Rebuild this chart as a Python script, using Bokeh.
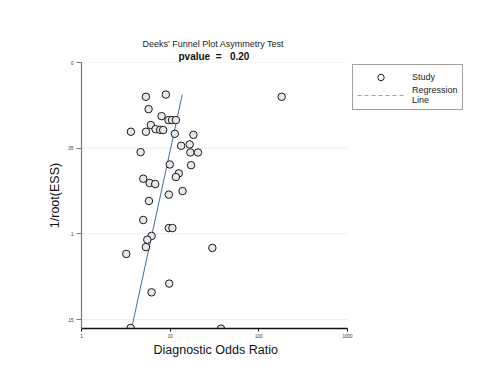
from bokeh.plotting import figure
from bokeh.models import Range1d, FixedTicker, Legend, LegendItem, Title
from bokeh.embed import file_html
from bokeh.resources import INLINE

# Study data: diagnostic odds ratio and 1/root(ESS)
dor = [5.33, 8.94, 181, 5.71, 8.0, 9.58, 10.5, 11.6, 6.06, 6.84, 7.72, 8.34,
       3.61, 5.33, 11.3, 18.3, 13.3, 16.6, 4.64, 16.9, 20.6, 9.91, 17.2, 12.5,
       11.6, 4.97, 5.86, 6.78, 13.8, 9.66, 5.76, 4.97, 9.66, 10.6, 6.17, 5.52,
       5.33, 3.20, 29.9, 9.75, 6.17, 3.59, 37.4]
inv_root_ess = [0.0200, 0.0187, 0.0200, 0.0272, 0.0313, 0.0336, 0.0336, 0.0336,
                0.0365, 0.0389, 0.0393, 0.0394, 0.0404, 0.0404, 0.0416, 0.0422,
                0.0486, 0.0478, 0.0523, 0.0525, 0.0525, 0.0595, 0.0599, 0.0647,
                0.0668, 0.0678, 0.0703, 0.0709, 0.0750, 0.0771, 0.0808, 0.0919,
                0.0966, 0.0966, 0.1012, 0.1034, 0.1077, 0.1117, 0.1082, 0.1290,
                0.1341, 0.1549, 0.1553]

# Regression line end points
reg_dor = [3.67, 13.7]
reg_y = [0.1553, 0.0187]

x_ticks = [1, 10, 100, 1000]
x_tick_labels = ["1", "10", "100", "1000"]
y_ticks = [0, 0.05, 0.1, 0.15]
y_tick_labels = ["0", ".05", ".1", ".15"]

title_text = "Deeks' Funnel Plot Asymmetry Test"
subtitle_text = "pvalue\u00a0\u00a0=\u00a0\u00a0\u00a00.20"
x_label = "Diagnostic Odds Ratio"
y_label = "1/root(ESS)"

FONT = "Liberation Sans"
NAN = float("nan")

# layout: axis area is 266 px for 3 decades; frame widened to hold the legend
LEFT, RIGHT_BORDER, W, H = 81, 19, 500, 368
frame_w = W - LEFT - RIGHT_BORDER
x_end = 10 ** (3 * frame_w / 266.0)

p = figure(width=W, height=H, x_axis_type="log",
           x_range=Range1d(1, x_end), y_range=Range1d(0.1552, 0),
           output_backend="svg", toolbar_location=None, title=None,
           min_border_left=LEFT, min_border_right=RIGHT_BORDER,
           min_border_top=62, min_border_bottom=40)
p.outline_line_color = None
p.background_fill_color = "white"
p.border_fill_color = "white"

p.add_layout(Title(text=subtitle_text, align="left", offset=97, text_font=FONT,
                   text_font_size="10px", text_font_style="bold",
                   text_color="#111111", standoff=1), "above")
p.add_layout(Title(text=title_text, align="left", offset=61, text_font=FONT,
                   text_font_size="9px", text_font_style="normal",
                   text_color="#222222", standoff=0), "above")

# horizontal grid lines over the axis span
p.segment(x0=[x_ticks[0]] * len(y_ticks), x1=[x_ticks[-1]] * len(y_ticks),
          y0=y_ticks, y1=y_ticks, line_color="#e6eff0", line_width=1,
          level="underlay")

# regression line
p.line(reg_dor, reg_y, line_color="#3e6ea8", line_width=1)
# studies
p.scatter(dor, inv_root_ess, size=7.5, marker="circle",
          fill_color="#e8e8e8", line_color="#1a1a1a", line_width=1)

# legend proxies (no visible data)
leg_study = p.scatter([NAN], [NAN], marker="circle", fill_color="white",
                      line_color="#1a1a1a", line_width=1)
leg_reg = p.line([NAN, NAN], [NAN, NAN], line_color="#8ea6c6", line_width=1,
                 line_dash="4 3")
legend = Legend(items=[LegendItem(label="Study", renderers=[leg_study]),
                       LegendItem(label="Regression\nLine", renderers=[leg_reg])],
                location=(271, 218), padding=4, spacing=0,
                glyph_width=47, glyph_height=16, label_height=10, label_width=46,
                label_standoff=8, label_text_font=FONT, label_text_font_size="9px",
                label_text_color="#222222", label_text_line_height=1.0,
                border_line_color="#444444", border_line_width=1,
                background_fill_color="white", background_fill_alpha=1)
p.add_layout(legend)

# x axis
xa = p.xaxis[0]
xa.bounds = (x_ticks[0], x_ticks[-1])
xa.ticker = FixedTicker(ticks=x_ticks)
xa.major_label_overrides = dict(zip(x_ticks, x_tick_labels))
xa.minor_tick_line_color = None
xa.major_tick_in = 0
xa.major_tick_out = 3
xa.major_tick_line_color = "#111111"
xa.axis_line_color = "#111111"
xa.axis_line_width = 1.5
xa.major_label_text_font = FONT
xa.major_label_text_font_size = "4.5px"
xa.major_label_text_color = "#333333"
xa.major_label_standoff = 2

# x axis title, centred under the 1..1000 span
p.add_layout(Title(text=x_label, align="left", offset=72, text_font=FONT,
                   text_font_size="12.5px", text_font_style="normal",
                   text_color="#111111", standoff=0), "below")

# y axis
ya = p.yaxis[0]
ya.ticker = FixedTicker(ticks=y_ticks)
ya.major_label_overrides = dict(zip(y_ticks, y_tick_labels))
ya.minor_tick_line_color = None
ya.major_tick_in = 0
ya.major_tick_out = 5
ya.major_tick_line_color = "#777777"
ya.axis_line_color = "#777777"
ya.axis_line_width = 1.2
ya.major_label_text_font = FONT
ya.major_label_text_font_size = "4.5px"
ya.major_label_text_color = "#333333"
ya.major_label_standoff = 3
ya.axis_label = y_label
ya.axis_label_text_font = FONT
ya.axis_label_text_font_size = "12.5px"
ya.axis_label_text_font_style = "normal"
ya.axis_label_text_color = "#111111"
ya.axis_label_standoff = 2

p.xgrid.visible = False
p.ygrid.visible = False

open("out.html", "w").write(file_html(p, INLINE))
